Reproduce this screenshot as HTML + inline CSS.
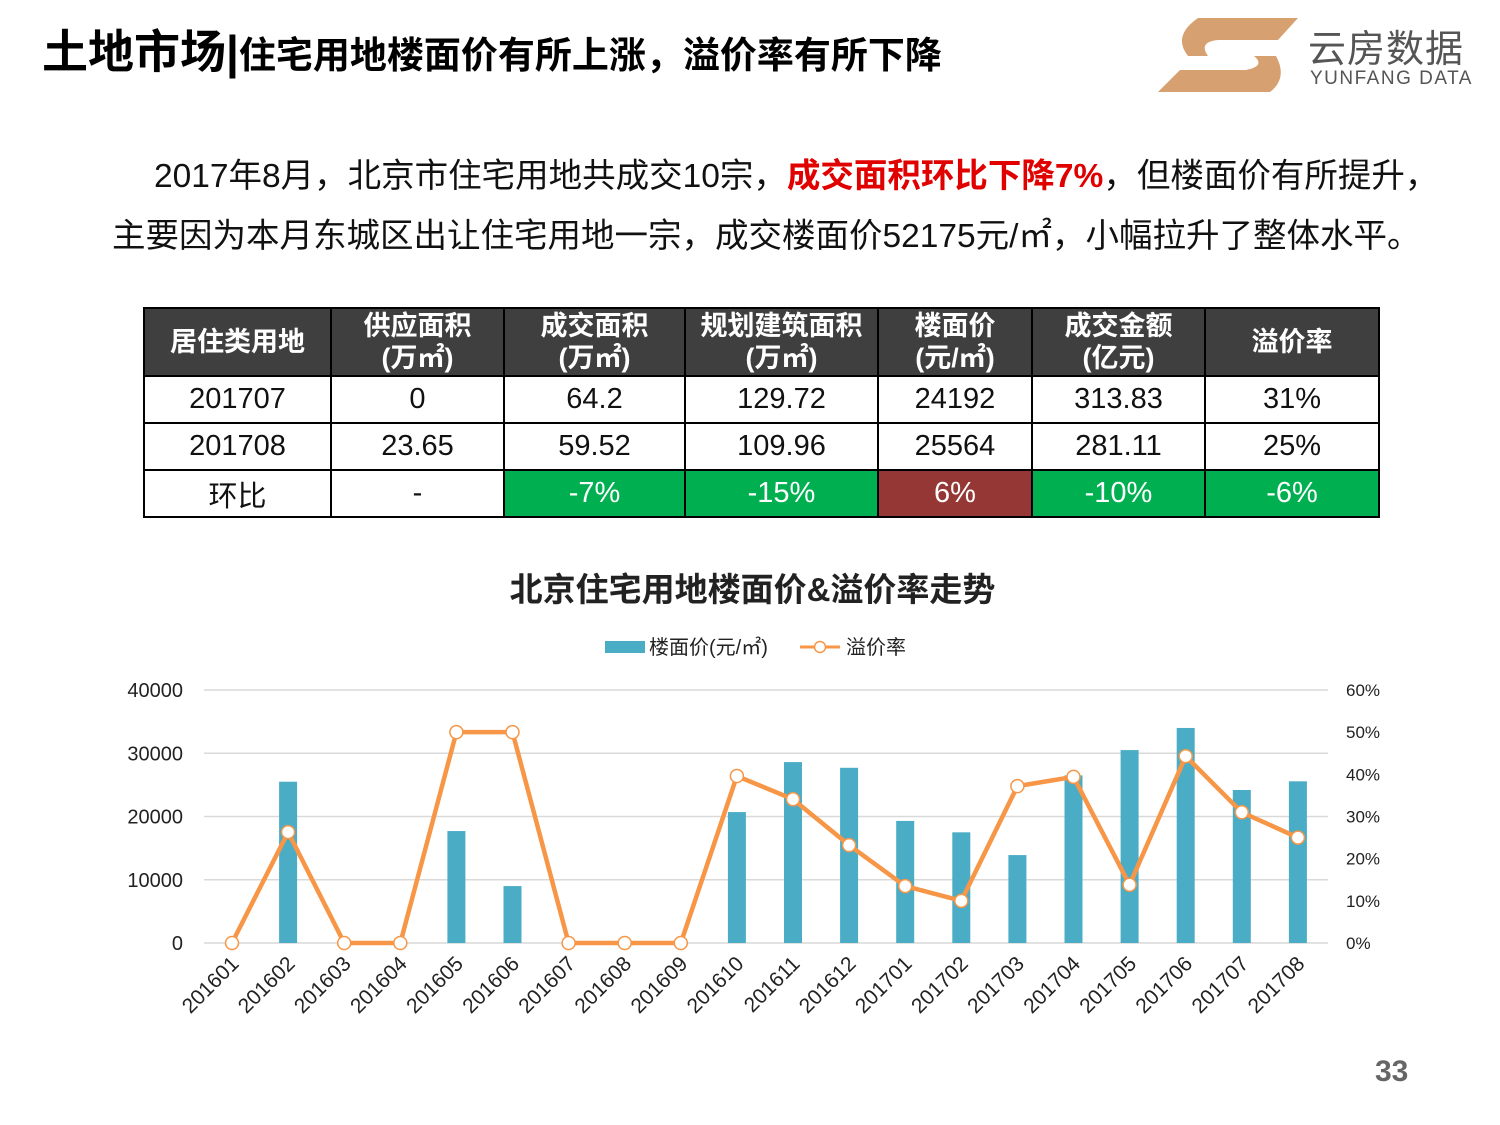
<!DOCTYPE html>
<html><head><meta charset="utf-8">
<style>
body{margin:0;background:#fff;font-family:"Liberation Sans","Noto Sans CJK SC",sans-serif;}
#page{position:relative;width:1500px;height:1125px;overflow:hidden;background:#fff;}
.abs{position:absolute;}
table{border-collapse:collapse;position:absolute;left:143px;top:307px;}
td{border:2px solid #000;text-align:center;font-size:29px;color:#111;padding:0;}
tr.h td{background:#3f3f3f;color:#fff;font-weight:bold;font-size:27px;line-height:32px;height:66px;}
tr.r td{height:45px;}
.g{background:#00b050;color:#fff !important;}
.rd{background:#953735;color:#fff !important;}
</style></head><body>
<div id="page">
<div class="abs" style="left:42px;top:16px;font-weight:bold;color:#000;white-space:nowrap;"><span style="font-size:46px">土地市场|</span><span style="font-size:37px">住宅用地楼面价有所上涨，溢价率有所下降</span></div>
<div class="abs" style="left:1158px;top:16px;width:330px;height:80px;">
<svg width="150" height="80"><path d="M40 2 L140 2 L120 24 L60 24 Q40 26 50 40 L118 40 Q130 62 112 76 L0 76 L22 54 L88 54 Q108 50 96 40 L30 40 Q14 20 40 2Z" fill="#d7a070"/></svg>
<div class="abs" style="left:150px;top:2px;font-size:38px;color:#555;letter-spacing:1px;">云房数据</div>
<div class="abs" style="left:152px;top:52px;font-size:19px;color:#555;letter-spacing:1.5px;">YUNFANG DATA</div>
</div>
<div class="abs" style="left:112px;top:147px;font-size:33.5px;line-height:60px;color:#111;width:1380px;white-space:nowrap;"><span style="padding-left:42px"></span>2017年8月，北京市住宅用地共成交10宗，<b style="color:#e00000">成交面积环比下降7%</b>，但楼面价有所提升，<br>主要因为本月东城区出让住宅用地一宗，成交楼面价52175元/㎡，小幅拉升了整体水平。</div>
<table>
<tr class="h"><td style="width:185px">居住类用地</td><td style="width:171px">供应面积<br>(万㎡)</td><td style="width:179px">成交面积<br>(万㎡)</td><td style="width:191px">规划建筑面积<br>(万㎡)</td><td style="width:152px">楼面价<br>(元/㎡)</td><td style="width:171px">成交金额<br>(亿元)</td><td style="width:172px">溢价率</td></tr>
<tr class="r"><td>201707</td><td>0</td><td>64.2</td><td>129.72</td><td>24192</td><td>313.83</td><td>31%</td></tr>
<tr class="r"><td>201708</td><td>23.65</td><td>59.52</td><td>109.96</td><td>25564</td><td>281.11</td><td>25%</td></tr>
<tr class="r"><td>环比</td><td>-</td><td class="g">-7%</td><td class="g">-15%</td><td class="rd">6%</td><td class="g">-10%</td><td class="g">-6%</td></tr>
</table>
<div class="abs" style="left:0;width:1505px;top:563px;text-align:center;font-size:33px;font-weight:bold;color:#222;">北京住宅用地楼面价&amp;溢价率走势</div>
<svg id="chart" class="abs" style="left:0;top:620px" width="1500" height="430"></svg>
<div class="abs" style="left:1375px;top:1055px;font-size:30px;font-weight:bold;color:#666;">33</div>
</div>
<script>
const categories=["201601","201602","201603","201604","201605","201606","201607","201608","201609","201610","201611","201612","201701","201702","201703","201704","201705","201706","201707","201708"];
const priceValues=[0,25500,0,0,17700,9000,0,0,0,20700,28600,27700,19300,17500,13900,26500,30500,34000,24192,25564];
const rateValues=[0,26.3,0,0,50,50,0,0,0,39.6,34.1,23.2,13.5,10,37.2,39.4,13.8,44.3,31,25];
const leftTicks=["0","10000","20000","30000","40000"];
const rightTicks=["0%","10%","20%","30%","40%","50%","60%"];
const svg=document.getElementById('chart');const NS="http://www.w3.org/2000/svg";
const OY=620,y0=943-OY,y1=690-OY,x0=232,step=56.1;
const yL=v=>y0-(v/40000)*(y0-y1);
const yR=v=>y0-(v/60)*(y0-y1);
const xC=i=>x0+i*step;
function mk(t,a){const e=document.createElementNS(NS,t);for(const k in a)e.setAttribute(k,a[k]);svg.appendChild(e);return e;}
leftTicks.forEach((t,i)=>{const v=+t;const y=yL(v);
let l=mk('line',{x1:204,x2:1328,y1:y,y2:y,stroke:'#d9d9d9','stroke-width':1.5});

let tx=mk('text',{x:183,y:y+7,'text-anchor':'end','font-size':20,fill:'#222'});tx.textContent=t;
});
rightTicks.forEach((t,i)=>{const y=yR(parseFloat(t));
let tx=mk('text',{x:1346,y:y+6,'font-size':17,fill:'#222'});tx.textContent=t;
});
priceValues.forEach((v,i)=>{if(!v)return;
let r=mk('rect',{x:xC(i)-9,y:yL(v),width:18,height:y0-yL(v),fill:'#4bacc6'});
});
let pts=rateValues.map((v,i)=>xC(i)+','+yR(v)).join(' ');
let pl=mk('polyline',{points:pts,fill:'none',stroke:'#f79646','stroke-width':4.5,'stroke-linejoin':'round'});

rateValues.forEach((v,i)=>{let c=mk('circle',{cx:xC(i),cy:yR(v),r:6.5,fill:'#fff',stroke:'#f79646','stroke-width':1.5});
});
categories.forEach((c,i)=>{const x=xC(i)+8,y=y0+22;
let tx=mk('text',{x:x,y:y,'text-anchor':'end','font-size':21,fill:'#222',transform:`rotate(-45 ${x} ${y})`});tx.textContent=c;
});
let lr=mk('rect',{x:605,y:21,width:40,height:12,fill:'#4bacc6'});
let lt=mk('text',{x:649,y:34,'font-size':20,fill:'#222'});lt.textContent='楼面价(元/㎡)';
let ll=mk('line',{x1:800,x2:840,y1:27,y2:27,stroke:'#f79646','stroke-width':3});
let lc=mk('circle',{cx:820,cy:27,r:5.5,fill:'#fff',stroke:'#f79646','stroke-width':1.5});
let lt2=mk('text',{x:846,y:34,'font-size':20,fill:'#222'});lt2.textContent='溢价率';
</script>
</body></html>
